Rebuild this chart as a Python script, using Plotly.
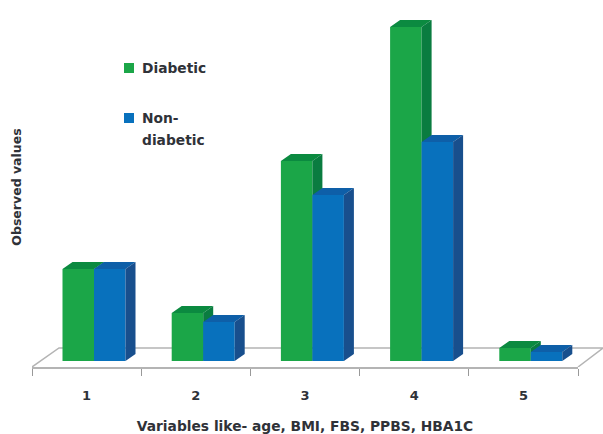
import plotly.graph_objects as go

categories = [1, 2, 3, 4, 5]
diabetic = [92, 48, 200, 334, 13]
non_diabetic = [92, 39, 166, 219, 9]

GREEN = ("#1BA648", "#0B8A40", "#0A7C40")
BLUE = ("#0871BD", "#0E5FA8", "#184F8D")
TEXT = "#2f3238"
LINE = "#b4b4b4"
FONT = "DejaVu Sans"

W, H = 603, 434
ML, MR, MB, MT = 32, 0, 67, 7
FLOOR_EXTRA = 25                    # px the floor sticks out right of the front axis
PW_FULL = W - ML - MR
PW = PW_FULL - FLOOR_EXTRA
PH = H - MB - MT
UNIT_X = PW / 5                     # pixels per category
DX, DY = 10 / UNIT_X, 7             # bar depth in axis units
BAR_W = 31.5 / UNIT_X
X_RANGE = [0.5, 5.5]
floor_right = 5.5 + FLOOR_EXTRA / UNIT_X
Y_RANGE = [-6, PH - 6]


def faces(offset, values):
    """Top and side faces of the 3-D bars, derived from the values."""
    top_x, top_y, side_x, side_y = [], [], [], []
    for c, v in zip(categories, values):
        l, r = c + offset, c + offset + BAR_W
        top_x += [l, r, r + DX, l + DX, l, None]
        top_y += [v, v, v + DY, v + DY, v, None]
        side_x += [r, r + DX, r + DX, r, r, None]
        side_y += [0, DY, v + DY, v, 0, None]
    return top_x, top_y, side_x, side_y


def add_series(fig, name, values, offset, colors, xa, ya):
    fig.add_trace(go.Bar(x=categories, y=values, name=name, width=BAR_W, offset=offset,
                         marker=dict(color=colors[0], line_width=0), xaxis=xa, yaxis=ya,
                         showlegend=False, cliponaxis=False, hoverinfo="x+y+name"))
    tx, ty, sx, sy = faces(offset, values)
    for x, y, c in ((tx, ty, colors[1]), (sx, sy, colors[2])):
        fig.add_trace(go.Scatter(x=x, y=y, mode="lines", fill="toself", fillcolor=c,
                                 line=dict(width=0, color=c), xaxis=xa, yaxis=ya,
                                 showlegend=False, hoverinfo="skip", cliponaxis=False))


fig = go.Figure()

# floor of the 3-D chart, behind the bars (bottom subplot, wider than the front axis)
FLOOR_DX, FLOOR_DY = 27 / UNIT_X, 19
fig.add_trace(go.Scatter(
    x=[0.5, 0.5 + FLOOR_DX, floor_right, 5.5],
    y=[-6, -6 + FLOOR_DY, -6 + FLOOR_DY, -6],
    mode="lines", line=dict(color=LINE, width=1.5), showlegend=False,
    hoverinfo="skip", cliponaxis=False))

add_series(fig, "Diabetic", diabetic, -24.1 / UNIT_X, GREEN, "x2", "y2")
add_series(fig, "Non-diabetic", non_diabetic, 7.4 / UNIT_X, BLUE, "x3", "y3")

# hand-placed legend, as in the reference
for py, color in ((68, GREEN[0]), (118, BLUE[0])):
    fig.add_shape(type="rect", xref="paper", yref="paper", x0=(124 - ML) / PW_FULL,
                  x1=(134 - ML) / PW_FULL, y0=(H - MB - py - 5) / PH,
                  y1=(H - MB - py + 5) / PH, fillcolor=color, line_width=0)
for py, txt in ((68, "Diabetic"), (118, "Non-"), (140, "diabetic")):
    fig.add_annotation(xref="paper", yref="paper", x=(141 - ML) / PW_FULL,
                       y=(H - MB - py) / PH, xanchor="left", yanchor="middle",
                       text=f"<b>{txt}</b>", showarrow=False, align="left", borderpad=0,
                       font=dict(family=FONT, size=13.8, color=TEXT))

front = [0, PW / PW_FULL]
overlay_y = dict(range=Y_RANGE, visible=False)
fig.update_layout(
    width=W, height=H, margin=dict(l=ML, r=MR, t=MT, b=MB, autoexpand=False),
    paper_bgcolor="white", plot_bgcolor="rgba(0,0,0,0)", barmode="overlay", showlegend=False,
    font=dict(family=FONT, color=TEXT),
    xaxis=dict(range=[0.5, floor_right], domain=[0, 1], visible=False),
    yaxis=dict(range=Y_RANGE, showgrid=False, zeroline=False, showline=False, showticklabels=False,
               ticks="", title=dict(text="<b>Observed values</b>", standoff=6,
                                    font=dict(size=12.5, color=TEXT))),
    xaxis2=dict(range=X_RANGE, domain=front, anchor="y2", showgrid=False, zeroline=False,
                showline=True, linecolor=LINE, linewidth=1.5, tickvals=categories, ticks="",
                ticklabelstandoff=16, tickfont=dict(size=13, color=TEXT, weight="bold"),
                minor=dict(ticks="outside", tickvals=[0.5, 1.5, 2.5, 3.5, 4.5, 5.5],
                           ticklen=7, tickwidth=1, tickcolor="#999999", showgrid=False),
                title=dict(text="<b>Variables like- age, BMI, FBS, PPBS, HBA1C</b>", standoff=20,
                           font=dict(size=13.8, color=TEXT))),
    yaxis2=dict(overlay_y, anchor="x2"),
    xaxis3=dict(range=X_RANGE, visible=False, overlaying="x2"),
    yaxis3=dict(overlay_y, overlaying="y2"),
)

fig.write_html("out.html", config=dict(displayModeBar=False),
               post_script="document.body.style.margin='0';")
